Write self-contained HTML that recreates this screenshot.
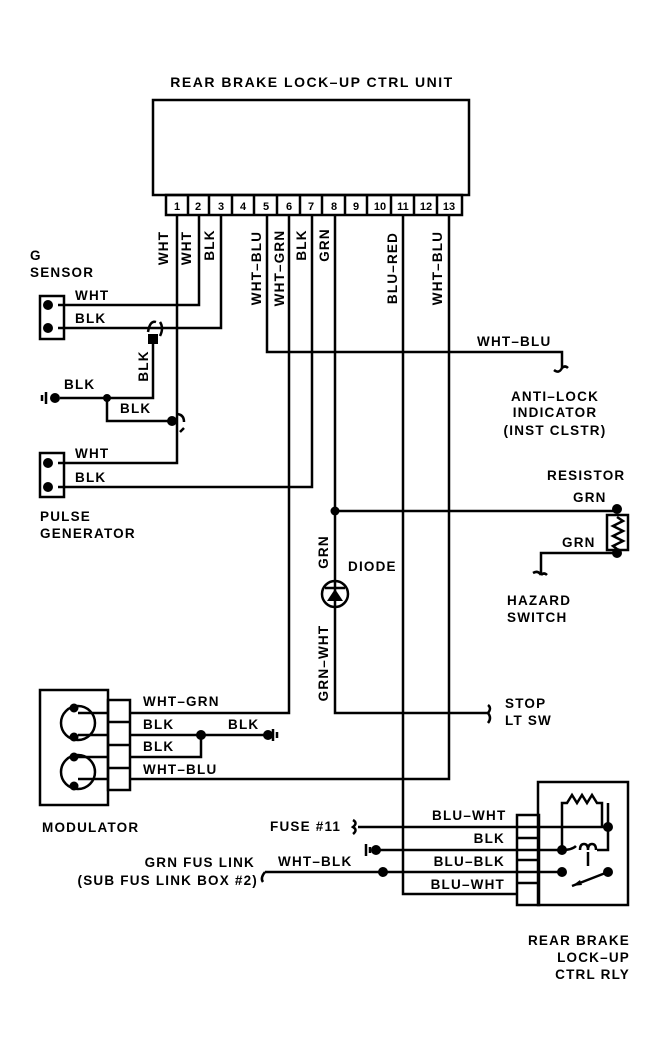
<!DOCTYPE html>
<html><head><style>
html,body{margin:0;padding:0;background:#fff;}
svg{display:block;}
text{font-family:"Liberation Sans",sans-serif;font-weight:bold;fill:#000;}
</style></head><body>
<svg width="669" height="1054" viewBox="0 0 669 1054" xmlns="http://www.w3.org/2000/svg">
<g fill="none" stroke="#000" stroke-width="2.5">
<rect x="153" y="100" width="316" height="95"/>
<rect x="166" y="195" width="296" height="20"/>
<path d="M188 195V215M209 195V215M232 195V215M254 195V215M277 195V215M300 195V215M322 195V215M345 195V215M367 195V215M391 195V215M414 195V215M437 195V215"/>
<path d="M177 215V463H58"/>
<path d="M199 215V305H58"/>
<path d="M221 215V328H58"/>
<path d="M267 215V352H562V368"/>
<path d="M289 215V713H130"/>
<path d="M312 215V487H58"/>
<path d="M335 215V713H488"/>
<path d="M335 511H617"/>
<path d="M403 215V894H517"/>
<path d="M449 215V779H130"/>
<rect x="40" y="296" width="24" height="43"/>
<path d="M153 340V398H60"/>
<path d="M107 398V421H170"/>
<path d="M148 332q2-12 8-10M160 322q4 6 0 14"/>
<path d="M176 414q8 0 8 8M184 428l-4 4"/>
<path d="M46 392V404M42 395V401"/>
<rect x="40" y="453" width="24" height="44"/>
<circle cx="335" cy="594" r="13"/>
<path d="M325 588H345"/>
<rect x="607" y="515" width="21" height="35"/>
<path d="M617 517l6 4-10 5 10 5-10 5 10 5-10 5 4 3"/>
<path d="M617 553H541V575M541 575q-3-5-8-2M541 575q3-3 6 0"/>
<path d="M562 368q-3 6-8 2M562 368q3-3 6 0"/>
<path d="M488 713q4-5 0-8M488 713q4 5 0 10"/>
<rect x="40" y="690" width="68" height="115"/>
<circle cx="78" cy="723" r="17"/>
<circle cx="78" cy="772" r="17"/>
<path d="M78 713H108M78 735H108M78 757H108M78 779H108"/>
<rect x="108" y="700" width="22" height="90"/>
<path d="M108 722H130M108 745H130M108 768H130"/>
<path d="M130 735H268M130 757H201V735"/>
<path d="M273 729V741M277 732V738"/>
<rect x="538" y="782" width="90" height="123"/>
<rect x="517" y="815" width="22" height="90"/>
<path d="M517 838H539M517 860H539M517 883H539"/>
<path d="M358 827H608M372 850H562M265 872H562"/>
<path d="M353 820q5 3 0 7q5 3 0 7"/>
<path d="M366 844V856M370 847V853"/>
<path d="M562 850V803H567l5-8 5 8 5-8 5 8 5-8 5 8h5V827M608 803V827"/>
<path d="M608 827V850H597M562 850q10 0 14-4"/>
<path d="M580 850q0-6 4-6q4 0 4 6q0-6 4-6q4 0 4 6"/>
<path d="M588 852V866"/>
<path d="M608 872l-36 14"/>
<path d="M265 872q-5 6-2 10"/>
</g>
<g fill="#000">
<circle cx="48" cy="305" r="5"/><circle cx="48" cy="328" r="5"/>
<circle cx="48" cy="463" r="5"/><circle cx="48" cy="487" r="5"/>
<circle cx="55" cy="398" r="5"/><circle cx="107" cy="398" r="4"/>
<rect x="148" y="334" width="10" height="10"/>
<circle cx="172" cy="421" r="5"/>
<circle cx="335" cy="511" r="4.5"/>
<circle cx="617" cy="509" r="5"/><circle cx="617" cy="553" r="5"/>
<path d="M327 601H343L335 589Z"/>
<circle cx="74" cy="708" r="4.5"/><circle cx="74" cy="737" r="4.5"/>
<circle cx="74" cy="757" r="4.5"/><circle cx="74" cy="786" r="4.5"/>
<circle cx="201" cy="735" r="5"/><circle cx="268" cy="735" r="5"/>
<circle cx="376" cy="850" r="5"/><circle cx="383" cy="872" r="5"/>
<circle cx="608" cy="827" r="5"/><circle cx="562" cy="850" r="5"/>
<circle cx="562" cy="872" r="5"/><circle cx="608" cy="872" r="5"/>
<path d="M572 886l8-6 2 5z"/>
</g>
<text x="312" y="87" text-anchor="middle" font-size="14" letter-spacing="1.5">REAR BRAKE LOCK–UP CTRL UNIT</text>
<g font-size="11" text-anchor="middle">
<text x="177" y="210">1</text><text x="198" y="210">2</text><text x="221" y="210">3</text>
<text x="243" y="210">4</text><text x="266" y="210">5</text><text x="289" y="210">6</text>
<text x="311" y="210">7</text><text x="334" y="210">8</text><text x="356" y="210">9</text>
<text x="380" y="210">10</text><text x="403" y="210">11</text><text x="426" y="210">12</text>
<text x="449" y="210">13</text>
</g>
<g font-size="13.5" letter-spacing="1.2">
<text transform="translate(168,248) rotate(-90)" text-anchor="middle">WHT</text>
<text transform="translate(191,248) rotate(-90)" text-anchor="middle">WHT</text>
<text transform="translate(214,245) rotate(-90)" text-anchor="middle">BLK</text>
<text transform="translate(261,268) rotate(-90)" text-anchor="middle">WHT–BLU</text>
<text transform="translate(284,268) rotate(-90)" text-anchor="middle">WHT–GRN</text>
<text transform="translate(306,245) rotate(-90)" text-anchor="middle">BLK</text>
<text transform="translate(329,245) rotate(-90)" text-anchor="middle">GRN</text>
<text transform="translate(397,268) rotate(-90)" text-anchor="middle">BLU–RED</text>
<text transform="translate(442,268) rotate(-90)" text-anchor="middle">WHT–BLU</text>
<text transform="translate(148,366) rotate(-90)" text-anchor="middle">BLK</text>
<text transform="translate(328,552) rotate(-90)" text-anchor="middle">GRN</text>
<text transform="translate(328,663) rotate(-90)" text-anchor="middle">GRN–WHT</text>
<text x="30" y="260">G</text><text x="30" y="277">SENSOR</text>
<text x="75" y="300">WHT</text><text x="75" y="323">BLK</text>
<text x="64" y="389">BLK</text><text x="120" y="413">BLK</text>
<text x="75" y="458">WHT</text><text x="75" y="482">BLK</text>
<text x="40" y="521">PULSE</text><text x="40" y="538">GENERATOR</text>
<text x="477" y="346">WHT–BLU</text>
<text x="555" y="401" text-anchor="middle">ANTI–LOCK</text>
<text x="555" y="417" text-anchor="middle">INDICATOR</text>
<text x="555" y="435" text-anchor="middle">(INST CLSTR)</text>
<text x="547" y="480">RESISTOR</text>
<text x="573" y="502">GRN</text><text x="562" y="547">GRN</text>
<text x="348" y="571">DIODE</text>
<text x="507" y="605">HAZARD</text><text x="507" y="622">SWITCH</text>
<text x="505" y="708">STOP</text><text x="505" y="725">LT SW</text>
<text x="143" y="706">WHT–GRN</text><text x="143" y="729">BLK</text>
<text x="228" y="729">BLK</text><text x="143" y="751">BLK</text>
<text x="143" y="774">WHT–BLU</text>
<text x="42" y="832">MODULATOR</text>
<text x="270" y="831">FUSE #11</text>
<text x="432" y="820">BLU–WHT</text>
<text x="505" y="843" text-anchor="end">BLK</text>
<text x="505" y="866" text-anchor="end">BLU–BLK</text>
<text x="505" y="889" text-anchor="end">BLU–WHT</text>
<text x="278" y="866">WHT–BLK</text>
<text x="255" y="867" text-anchor="end">GRN FUS LINK</text>
<text x="258" y="885" text-anchor="end">(SUB FUS LINK BOX #2)</text>
<text x="630" y="945" text-anchor="end">REAR BRAKE</text>
<text x="630" y="962" text-anchor="end">LOCK–UP</text>
<text x="630" y="979" text-anchor="end">CTRL RLY</text>
</g>
</svg>
</body></html>
